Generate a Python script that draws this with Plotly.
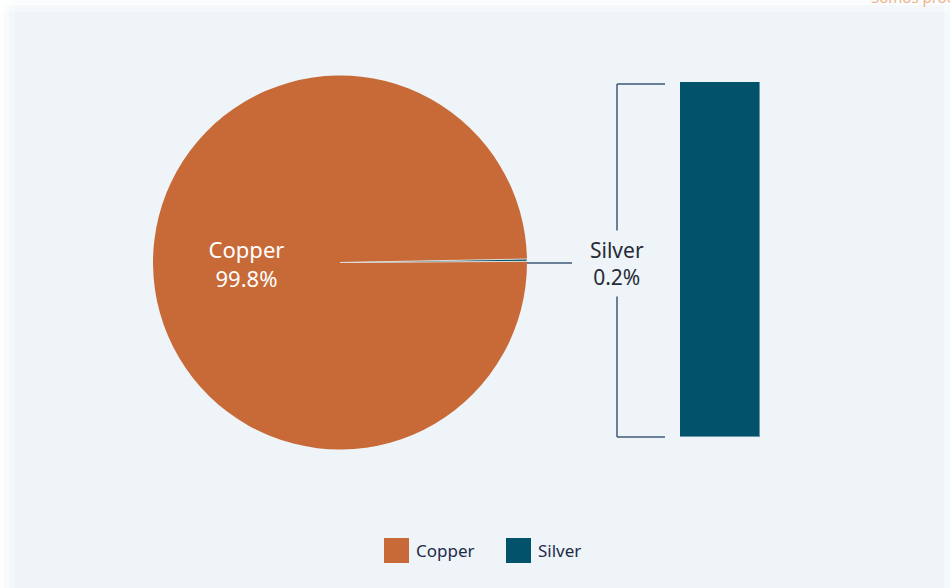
import plotly.graph_objects as go

# Composition of the alloy
metals = ["Copper", "Silver"]
shares = [99.8, 0.2]
metal_colors = ["#C86A37", "#00536B"]
bg = "#EEF4F7"
W, H = 950, 588


def px(x):
    return x / W


def py(y):
    return 1 - y / H


fig = go.Figure()

# Main pie: silver sits as a sliver at 3 o'clock
fig.add_trace(go.Pie(
    labels=metals,
    values=shares,
    sort=False,
    direction="counterclockwise",
    rotation=90 - shares[1] * 3.6 / 2,
    marker=dict(colors=metal_colors,
                line=dict(color=[metal_colors[0], "#E2DCD7"], width=[0, 1])),
    texttemplate=["%{label}<br>%{value:.1f}%", ""],
    textposition="inside",
    insidetextorientation="horizontal",
    textfont=dict(color="white", size=22, family="Noto Sans"),
    domain=dict(x=[px(153), px(527)], y=[py(450), py(75)]),
    showlegend=False,
    hoverinfo="label+percent",
))

# Expanded bar for the silver share
fig.add_trace(go.Bar(
    x=[metals[1]],
    y=[shares[1]],
    width=1,
    marker=dict(color=metal_colors[1], line=dict(color="#6E94A6", width=1)),
    showlegend=False,
    xaxis="x", yaxis="y",
))

fig.update_layout(
    width=W, height=H,
    margin=dict(l=0, r=0, t=0, b=0),
    paper_bgcolor=bg,
    plot_bgcolor=bg,
    font=dict(family="Noto Sans", color="#1F2A44"),
    xaxis=dict(domain=[px(680), px(760)], range=[-0.5, 0.5], visible=False),
    yaxis=dict(domain=[py(437), py(82)], range=[0, shares[1]], visible=False),
    bargap=0,
)

line_col = "#3E5A78"
shapes = [
    # soft white fade along the left and top edges
    dict(type="rect", xref="paper", yref="paper", x0=0, x1=px(4), y0=0, y1=1,
         fillcolor="white", opacity=0.9, line_width=0, layer="below"),
    dict(type="rect", xref="paper", yref="paper", x0=px(4), x1=px(9), y0=0, y1=1,
         fillcolor="white", opacity=0.6, line_width=0, layer="below"),
    dict(type="rect", xref="paper", yref="paper", x0=px(9), x1=px(15), y0=0, y1=1,
         fillcolor="white", opacity=0.3, line_width=0, layer="below"),
    dict(type="rect", xref="paper", yref="paper", x0=0, x1=1, y0=py(5), y1=1,
         fillcolor="white", opacity=0.7, line_width=0, layer="below"),
    dict(type="rect", xref="paper", yref="paper", x0=0, x1=1, y0=py(12), y1=py(5),
         fillcolor="white", opacity=0.35, line_width=0, layer="below"),
    dict(type="rect", xref="paper", yref="paper", x0=px(944), x1=1, y0=0, y1=1,
         fillcolor="white", opacity=0.4, line_width=0, layer="below"),
    # leader from the sliver to the label
    dict(type="line", xref="paper", yref="paper", x0=px(527), x1=px(572),
         y0=py(263), y1=py(263), line=dict(color=line_col, width=1.5)),
    # bracket beside the bar
    dict(type="line", xref="paper", yref="paper", x0=px(617), x1=px(617),
         y0=py(84), y1=py(437), line=dict(color=line_col, width=1.5)),
    dict(type="line", xref="paper", yref="paper", x0=px(617), x1=px(665),
         y0=py(84), y1=py(84), line=dict(color=line_col, width=1.5)),
    dict(type="line", xref="paper", yref="paper", x0=px(617), x1=px(665),
         y0=py(437), y1=py(437), line=dict(color=line_col, width=1.5)),
]

annotations = [
    dict(xref="paper", yref="paper", x=px(617), y=py(263),
         text=f"{metals[1]}<br>{shares[1]:.1f}%", showarrow=False,
         font=dict(size=21, color="#262B36"), bgcolor=bg,
         borderpad=5, xanchor="center", yanchor="middle"),
    dict(xref="paper", yref="paper", x=px(869), y=py(9),
         text="Somos productores", showarrow=False, xanchor="left", yanchor="bottom",
         font=dict(size=15, color="#EFB48A")),
]

# legend swatches and labels
legend_items = [(384, 409, 414), (506, 531, 536)]
for (x0, x1, tx), name, col in zip(legend_items, metals, metal_colors):
    shapes.append(dict(type="rect", xref="paper", yref="paper",
                       x0=px(x0), x1=px(x1), y0=py(563), y1=py(538),
                       fillcolor=col, line=dict(color=col, width=0)))
    annotations.append(dict(xref="paper", yref="paper", x=px(tx), y=py(550),
                            text=name, showarrow=False, xanchor="left",
                            yanchor="middle", font=dict(size=17, color="#1F2A4A")))

fig.update_layout(shapes=shapes, annotations=annotations)

fig.write_html("out.html")
